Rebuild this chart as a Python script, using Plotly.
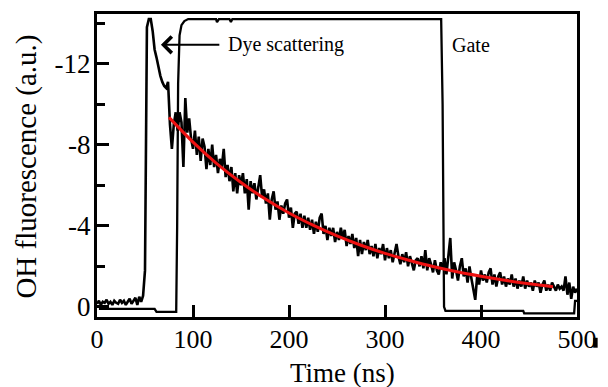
import plotly.graph_objects as go

# OH fluorescence trace, sampled every 2 ns (a.u., negative-going signal)
signal_values = [
    -0.15, -0.30, -0.10, -0.25, -0.20, -0.35, -0.15, -0.25, -0.10, -0.30,
    -0.20, -0.15, -0.35, -0.20, -0.30, -0.10, -0.25, -0.40, -0.15, -0.30,
    -0.45, -0.10, -0.50, -0.25,
    -0.55, -1.8, -13.8, -14.2, -14.2, -13.6, -12.7, -12.3, -11.8, -11.4,
    -11.1, -10.9, -10.8, -11.1, -9.0, -7.8, -9.0, -9.6, -8.7, -9.6,
    -9.1, -6.9, -10.3, -8.6, -9.3, -8.3,
    -7.8, -8.7, -7.5, -8.4, -7.2, -8.3, -7.9, -6.8, -7.8, -7.0,
    -8.0, -6.9, -7.5, -6.6, -7.3, -6.9, -7.8, -6.4, -7.0, -6.2,
    -6.9, -5.7, -6.6, -5.6, -6.5, -6.0, -6.6, -5.6, -6.3, -4.8,
    -6.2, -5.6, -6.1, -5.3, -5.9, -6.5, -5.4, -5.8,
    -5.1, -5.6, -4.3, -5.3, -5.7, -4.8, -5.2, -4.3, -5.0, -4.6,
    -5.1, -5.3, -4.4, -4.9, -3.9, -4.6, -4.7, -4.1, -4.6, -3.9,
    -4.5, -3.9, -4.4, -3.8, -4.3, -3.6, -4.2, -3.7, -4.4, -4.6,
    -3.6, -4.0, -3.3, -3.9, -3.5, -3.9, -3.2, -3.7,
    -3.3, -3.9, -3.4, -3.8, -3.0, -3.5, -3.1, -3.6, -2.9, -3.4,
    -2.5, -3.3, -2.6, -3.2, -2.8, -3.3, -2.6, -3.0, -2.5, -3.1,
    -2.4, -2.9, -2.6, -3.1, -2.3, -2.9, -2.4, -2.8, -2.2, -2.7,
    -3.1, -2.5, -2.1, -2.6, -2.2, -2.7, -2.0, -2.5,
    -2.1, -1.8, -2.3, -2.4, -2.0, -2.5, -1.9, -2.8, -1.8, -2.4,
    -2.1, -1.7, -2.3, -1.8, -1.6, -2.2, -1.9, -2.4, -1.6, -2.6,
    -3.4, -1.4, -2.2, -1.8, -1.3, -2.0, -2.4, -1.5, -1.9, -1.2,
    -2.0, -1.4, -0.8, -0.35, -1.5, -1.1, -1.8,
    -1.3, -1.6, -1.2, -1.7, -1.9, -1.1, -1.6, -1.0, -1.5, -1.7,
    -1.1, -1.5, -1.0, -1.4, -1.1, -1.6, -1.0, -1.4, -0.9, -1.3,
    -1.0, -1.5, -0.9, -1.3, -1.0, -1.2, -0.8, -1.3, -1.0, -1.2,
    -0.7, -1.1, -1.3, -0.8, -1.1, -0.8, -1.2, -1.0, -0.8, -1.1,
    -0.9, -1.0, -0.8, -1.5, -0.6, -1.2, -0.4, -1.0, -0.7, -0.9,
]
signal_time = [2 * i for i in range(len(signal_values))]

# Camera gate monitor (ns, a.u.)
gate_time = [2, 60, 62, 82.5, 83.5, 84.5, 86, 88, 91, 95, 124, 125, 127,
             138, 139.5, 141, 358.5, 360, 361.5, 363, 444, 445, 497, 498, 500]
gate_values = [0.1, 0.1, 0.25, 0.25, -4.0, -11.0, -13.4, -13.9, -14.1, -14.2,
               -14.2, -14.05, -14.2, -14.2, -14.05, -14.2, -14.2, -10.0, 0.0,
               0.2, 0.2, 0.32, 0.32, -0.3, -0.3]

# Exponential decay fit
fit_time = [75, 100, 125, 150, 175, 200, 225, 250, 275, 300, 325, 350,
            375, 400, 425, 450, 475]
fit_values = [-9.35, -8.13, -7.06, -6.14, -5.33, -4.63, -4.03, -3.50, -3.04,
              -2.64, -2.30, -1.99, -1.73, -1.51, -1.31, -1.14, -0.99]

x_ticks = [0, 100, 200, 300, 400, 500]
y_ticks = [-12, -8, -4, 0]
y_tick_text = ["-12", "-8", "-4", "0"]

SERIF = "Liberation Serif"

fig = go.Figure()
fig.add_trace(go.Scatter(x=gate_time, y=gate_values, mode="lines",
                         line=dict(color="black", width=2.3), showlegend=False))
fig.add_trace(go.Scatter(x=signal_time, y=signal_values, mode="lines",
                         line=dict(color="black", width=2.6), showlegend=False))
fig.add_trace(go.Scatter(x=fit_time, y=fit_values, mode="lines",
                         line=dict(color="#ee1111", width=3, shape="spline"),
                         showlegend=False))

fig.update_layout(
    width=608, height=387,
    margin=dict(l=97, r=23, t=11, b=70),
    paper_bgcolor="white", plot_bgcolor="white",
    font=dict(family=SERIF, color="black"),
)
fig.update_xaxes(
    range=[0, 500], tickvals=x_ticks, showgrid=False, zeroline=False,
    showline=True, linecolor="black", linewidth=3, mirror=True,
    ticks="inside", ticklen=12, tickwidth=2.5, tickcolor="black",
    tickfont=dict(family=SERIF, size=26),
    ticklabelstandoff=-3,
)
fig.update_yaxes(
    range=[0.5, -14.45], tickvals=y_ticks, ticktext=y_tick_text,
    showgrid=False, zeroline=False,
    showline=True, linecolor="black", linewidth=3, mirror=True,
    ticks="inside", ticklen=12, tickwidth=2.5, tickcolor="black",
    minor=dict(tickvals=[-14, -10, -6, -2], ticks="inside", ticklen=8,
               tickwidth=2.5, tickcolor="black"),
    tickfont=dict(family=SERIF, size=27),
    ticklabelstandoff=-2,
)

annotations = [
    dict(text="Time (ns)", xref="paper", yref="paper", x=0.512, y=-0.185,
         xanchor="center", yanchor="middle", showarrow=False,
         font=dict(family=SERIF, size=27)),
    dict(text="OH fluorescence (a.u.)", xref="paper", yref="paper",
         x=-0.1475, y=0.497, xanchor="center", yanchor="middle",
         textangle=-90, showarrow=False, font=dict(family=SERIF, size=29)),
    dict(text="Dye scattering", xref="x", yref="y", x=134, y=-12.93,
         xanchor="left", yanchor="middle", showarrow=False,
         font=dict(family=SERIF, size=20)),
    dict(text="", xref="x", yref="y", x=66.6, y=-12.93,
         axref="x", ayref="y", ax=129, ay=-12.93, showarrow=True,
         arrowhead=4, arrowsize=1.6, arrowwidth=2, arrowcolor="black"),
    dict(text="Gate", xref="x", yref="y", x=368, y=-12.93,
         xanchor="left", yanchor="middle", showarrow=False,
         font=dict(family=SERIF, size=20)),
]
fig.update_layout(annotations=annotations)

# small dark mark beside the last x tick label
fig.add_shape(type="rect", xref="paper", yref="paper",
              x0=1.0338, x1=1.043, y0=-0.1013, y1=-0.0686,
              fillcolor="black", line=dict(width=0))

fig.write_html("out.html")
